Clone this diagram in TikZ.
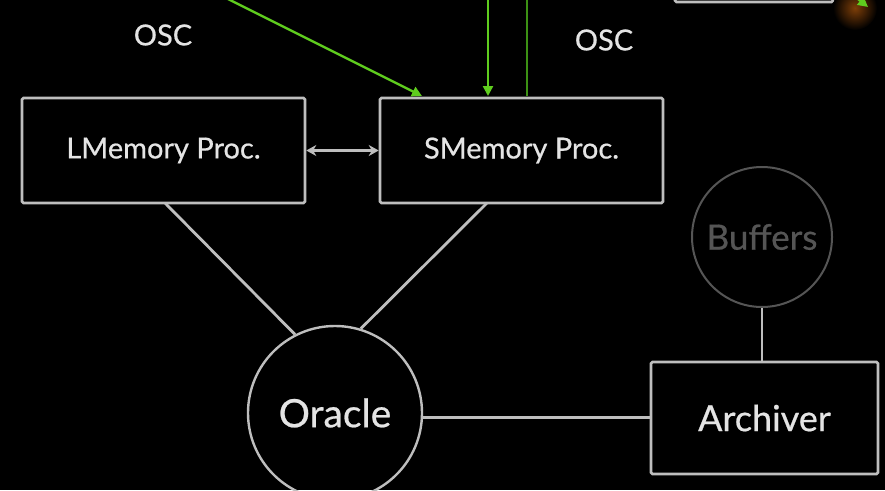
\documentclass[tikz,border=0pt]{standalone}
\usepackage{fontspec}
\setmainfont{Lato}[FakeBold=0.6]
\usetikzlibrary{arrows.meta}
\definecolor{edgec}{RGB}{190,190,190}
\definecolor{txtc}{RGB}{228,228,228}
\definecolor{dimc}{RGB}{85,85,85}
\definecolor{oscg}{RGB}{95,205,30}
\definecolor{oscd}{RGB}{60,145,20}
\definecolor{glow}{RGB}{125,62,8}
\begin{document}
\begin{tikzpicture}[x=1pt,y=-1pt,
  procbox/.style={draw=edgec,line width=2.6pt,rounded corners=1.5pt,text=txtc,
    minimum width=283pt,minimum height=105pt,inner sep=0pt,
    font=\fontsize{29}{32}\selectfont},
  bigcirc/.style={circle,draw=edgec,line width=2.4pt,text=txtc,inner sep=0pt,
    font=\fontsize{39}{42}\selectfont},
  link/.style={draw=edgec,line width=2.8pt},
  oscarrow/.style={draw=oscg,line width=2.4pt,-{Triangle[length=10pt,width=10pt]}},
  osclabel/.style={text=txtc,font=\fontsize{29}{32}\selectfont},
]
\fill[black] (0,0) rectangle (885,490);
\useasboundingbox (0,0) rectangle (885,490);
\clip (0,0) rectangle (885,490);

% nodes
\node[procbox] (lmem) at (163.5,150.5) {LMemory Proc.};
\node[procbox] (smem) at (521.5,150.5) {SMemory Proc.};
\node[bigcirc,minimum size=174pt] (oracle) at (335,413) {Oracle};
\node[procbox,minimum width=227pt,minimum height=112pt,font=\fontsize{36}{40}\selectfont] (arch) at (764.5,418) {Archiver};
\node[bigcirc,draw=dimc,text=dimc,minimum size=140pt,line width=2pt,font=\fontsize{35}{40}\selectfont] (buf) at (762,237) {Buffers};
\node[draw=edgec,line width=2.6pt,rounded corners=1.5pt,minimum width=158pt,minimum height=40pt,inner sep=0pt] (topbox) at (754,-18) {};

\node[osclabel] (osc1) at (163,35) {OSC};
\node[osclabel] (osc2) at (604,40) {OSC};

% gray connectors
\draw[link,{Stealth[length=10pt,width=11pt]}-{Stealth[length=10pt,width=11pt]}] (lmem.east) -- (smem.west);
\draw[link] (165,203) -- (oracle.117);
\draw[link] (487,203) -- (oracle.73);
\draw[link] (oracle.-3) -- (oracle.-3 -| arch.west);
\draw[link] (buf.south) -- (arch.north -| buf.south);

% green OSC arrows
\coordinate (g1s) at (200,-15);
\coordinate (g1e) at (422,96);
\draw[oscarrow] (g1s) -- (g1e);
\coordinate (g2s) at (488,-5);
\coordinate (g2e) at (488,96);
\draw[oscarrow] (g2s) -- (g2e);
\coordinate (g3s) at (527,96);
\coordinate (g3e) at (527,-5);
\draw[draw=oscd,line width=2.6pt] (g3s) -- (g3e);

% top-right glow and arrow tip
\shade[inner color=glow,outer color=black] (855,8) circle (22pt);
\coordinate (g4s) at (842,-14);
\coordinate (g4e) at (868,7);
\draw[oscarrow] (g4s) -- (g4e);
\end{tikzpicture}
\end{document}
